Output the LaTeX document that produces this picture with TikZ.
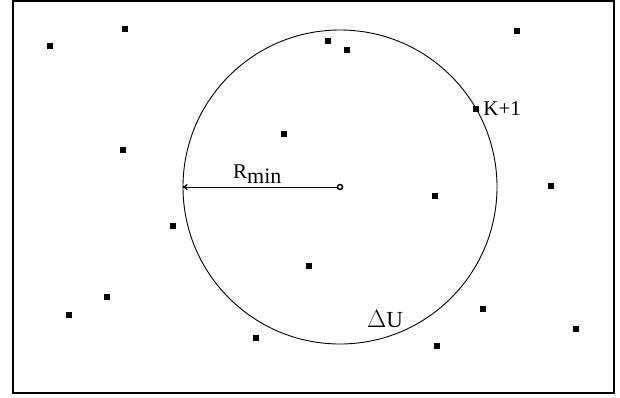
\documentclass[tikz,border=0pt]{standalone}
\usepackage{fontspec}
\setmainfont{Liberation Serif}
\usetikzlibrary{arrows.meta,positioning}

\begin{document}
\begin{tikzpicture}[x=1pt, y=-1pt,
    pt/.style={rectangle, fill=black, inner sep=0pt, minimum size=6pt},
    lbl/.style={font=\fontsize{21}{23}\selectfont, inner sep=0pt}
]
    \useasboundingbox (0,0) rectangle (620,397);

    % Frame
    \draw[line width=2pt] (13,1) rectangle (614,393);

    % Neighbourhood circle
    \node[circle, draw, line width=0.9pt, minimum size=314pt, inner sep=0pt] (U) at (340,187) {};
    \node[circle, draw, line width=1.5pt, fill=white, minimum size=5pt, inner sep=0pt] (c) at (340,187) {};

    % Sample points
    \node[pt] (p1) at (50,46) {};
    \node[pt] (p2) at (125,29) {};
    \node[pt] (p3) at (123,150) {};
    \node[pt] (p4) at (328,41) {};
    \node[pt] (p5) at (347,50) {};
    \node[pt] (p6) at (517,31) {};
    \node[pt] (k1) at (476,109) {};
    \node[pt] (p7) at (284,134) {};
    \node[pt] (p8) at (551,186) {};
    \node[pt] (p9) at (435,196) {};
    \node[pt] (p10) at (173,226) {};
    \node[pt] (p11) at (309,266) {};
    \node[pt] (p12) at (107,297) {};
    \node[pt] (p13) at (69,315) {};
    \node[pt] (p14) at (483,309) {};
    \node[pt] (p15) at (576,329) {};
    \node[pt] (p16) at (256,338) {};
    \node[pt] (p17) at (437,346) {};

    % Radius
    \draw[line width=0.9pt, -{To[length=5pt,width=6pt,line width=1.5pt]}] (c.west) -- (U.west);

    % Labels
    \node[lbl, right=4pt of k1] (kl) {K+1};
    \node[lbl, anchor=base west] (rl) at (233,178) {R\raisebox{-5pt}{\fontsize{22}{24}\selectfont min}};
    \node[lbl, anchor=base west, font=\fontsize{23}{25}\selectfont] (ul) at (367,327) {$\Delta$U};

\end{tikzpicture}
\end{document}
